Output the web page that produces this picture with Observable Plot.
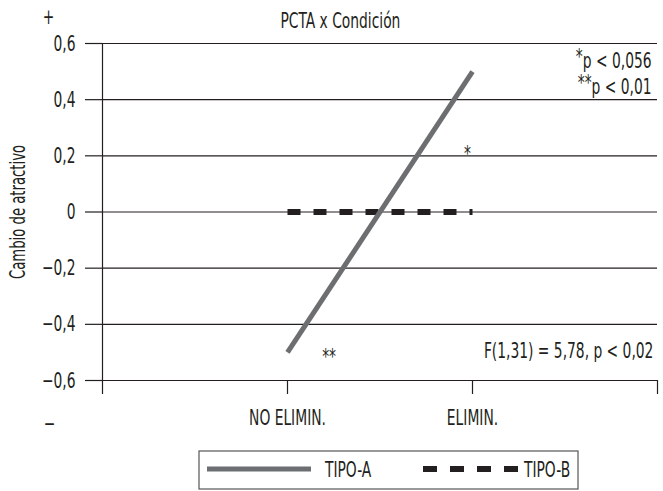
<!DOCTYPE html>
<html><head><meta charset="utf-8">
<script src="https://cdn.jsdelivr.net/npm/d3@7"></script>
<script src="https://cdn.jsdelivr.net/npm/@observablehq/plot@0.6"></script>
<style>
body{margin:0;background:#fff;font-family:"DejaVu Sans Condensed","DejaVu Sans",sans-serif;}
svg text{font-stretch:condensed;}
#wrap{position:relative;width:663px;height:491px;}
#legend{position:absolute;left:198px;top:450px;}
</style></head><body>
<div id="wrap"><div id="chart"></div><svg id="legend" width="381" height="40"></svg></div>
<script>
const conditions = ["NO ELIMIN.", "ELIMIN."];
const conditionPos = [1, 2];
const tipoA = [-0.5, 0.5];
const tipoB = [0, 0];
const series = ["TIPO-A", "TIPO-B"];
const yTicks = [-0.6, -0.4, -0.2, 0, 0.2, 0.4, 0.6];
const notesCenter = [
  {x: 1.286, y: 0.679, text: "PCTA x Condición"},
  {x: -0.292, y: 0.696, text: "+"},
  {x: -0.286, y: -0.754, text: "−"},
  {x: 1.973, y: 0.205, text: "*"},
  {x: 1.225, y: -0.515, text: "**"}
];
const notesRight = [
  {x: 2.968, y: 0.539, text: "*p < 0,056"},
  {x: 2.968, y: 0.447, text: "**p < 0,01"},
  {x: 2.978, y: -0.496, text: "F(1,31) = 5,78, p < 0,02"}
];

const rows = [];
conditions.forEach((c, i) => {
  rows.push({serie: series[0], x: conditionPos[i], y: tipoA[i]});
  rows.push({serie: series[1], x: conditionPos[i], y: tipoB[i]});
});
const fmt = v => v === 0 ? "0" : (v < 0 ? "−" : "") + Math.abs(v).toFixed(1).replace(".", ",");
const ink = "#231f20";
const grayA = "#6d6e71";
const ff = '"DejaVu Sans Condensed","DejaVu Sans",sans-serif';
const squeeze = 0.7;

const chart = Plot.plot({
  width: 663, height: 440,
  marginLeft: 102, marginRight: 6, marginTop: 43, marginBottom: 60,
  style: {fontFamily: ff, fontSize: "22px", color: ink, background: "white"},
  x: {domain: [0, 3]},
  y: {domain: [-0.6, 0.6]},
  marks: [
    Plot.ruleY(yTicks, {stroke: ink, strokeWidth: 1.2}),
    Plot.ruleX([0], {y1: -0.6, y2: 0.6, stroke: ink, strokeWidth: 1.2}),
    Plot.axisY(yTicks, {tickSize: 17, tickPadding: 10, tickFormat: fmt, stroke: ink, strokeWidth: 1.2, fontSize: 22,
      label: "Cambio de atractivo", labelAnchor: "center", labelArrow: "none", labelOffset: 92}),
    Plot.axisX([0, 1, 2, 3], {tickSize: 14, tickPadding: 15, stroke: ink, strokeWidth: 1.2, fontSize: 22,
      tickFormat: v => { const i = conditionPos.indexOf(v); return i >= 0 ? conditions[i] : ""; }, label: null}),
    Plot.line(rows.filter(d => d.serie === series[1]), {x: "x", y: "y", stroke: ink, strokeWidth: 6, strokeDasharray: "13,13", strokeLinecap: "butt"}),
    Plot.line(rows.filter(d => d.serie === series[0]), {x: "x", y: "y", stroke: grayA, strokeWidth: 5, strokeLinecap: "butt"}),
    Plot.text(notesCenter, {x: "x", y: "y", text: "text", textAnchor: "middle", fill: ink, fontSize: 22}),
    Plot.text(notesRight, {x: "x", y: "y", text: "text", textAnchor: "end", fill: ink, fontSize: 22})
  ]
});
document.getElementById("chart").appendChild(chart);

// y-axis title a bit smaller
d3.select(chart).selectAll("text").filter(function(){ return this.textContent === "Cambio de atractivo"; })
  .attr("font-size", 21);

// superscript asterisks in the significance notes
d3.select(chart).selectAll("text").each(function() {
  const t = this.textContent;
  const m = t.match(/^(\*+)(p .*)$/);
  if (m) {
    const s = d3.select(this);
    s.text(null);
    s.append("tspan").attr("dy", "-0.18em").text(m[1]);
    s.append("tspan").attr("dy", "0.18em").text(m[2]);
  }
});

// condensed look: squeeze glyphs horizontally around each text's own anchor
function condense(root) {
  d3.select(root).selectAll("text").each(function() {
    const tr = this.getAttribute("transform") || "";
    const xAttr = +(this.getAttribute("x") || 0);
    if (tr.includes("translate") && !xAttr) {
      this.setAttribute("transform", tr + ` scale(${squeeze},1)`);
    } else {
      const len = this.getComputedTextLength();
      if (len > 0) {
        this.setAttribute("textLength", (len * squeeze).toFixed(1));
        this.setAttribute("lengthAdjust", "spacingAndGlyphs");
      }
    }
  });
}
condense(chart);

// legend
const lg = d3.select("#legend");
lg.append("rect").attr("x", 1).attr("y", 1).attr("width", 379).attr("height", 38)
  .attr("fill", "none").attr("stroke", "#555").attr("stroke-width", 1.2);
lg.append("line").attr("x1", 9).attr("x2", 113).attr("y1", 19).attr("y2", 19)
  .attr("stroke", grayA).attr("stroke-width", 5);
lg.append("line").attr("x1", 225).attr("x2", 320).attr("y1", 19).attr("y2", 19)
  .attr("stroke", ink).attr("stroke-width", 6).attr("stroke-dasharray", "14,13");
lg.append("text").attr("transform", "translate(127,19)").attr("dy", "0.35em").text(series[0]);
lg.append("text").attr("transform", "translate(326,19)").attr("dy", "0.35em").text(series[1]);
lg.selectAll("text").attr("font-family", ff).attr("font-size", 22).attr("fill", ink);
condense(document.getElementById("legend"));
</script>
</body></html>
